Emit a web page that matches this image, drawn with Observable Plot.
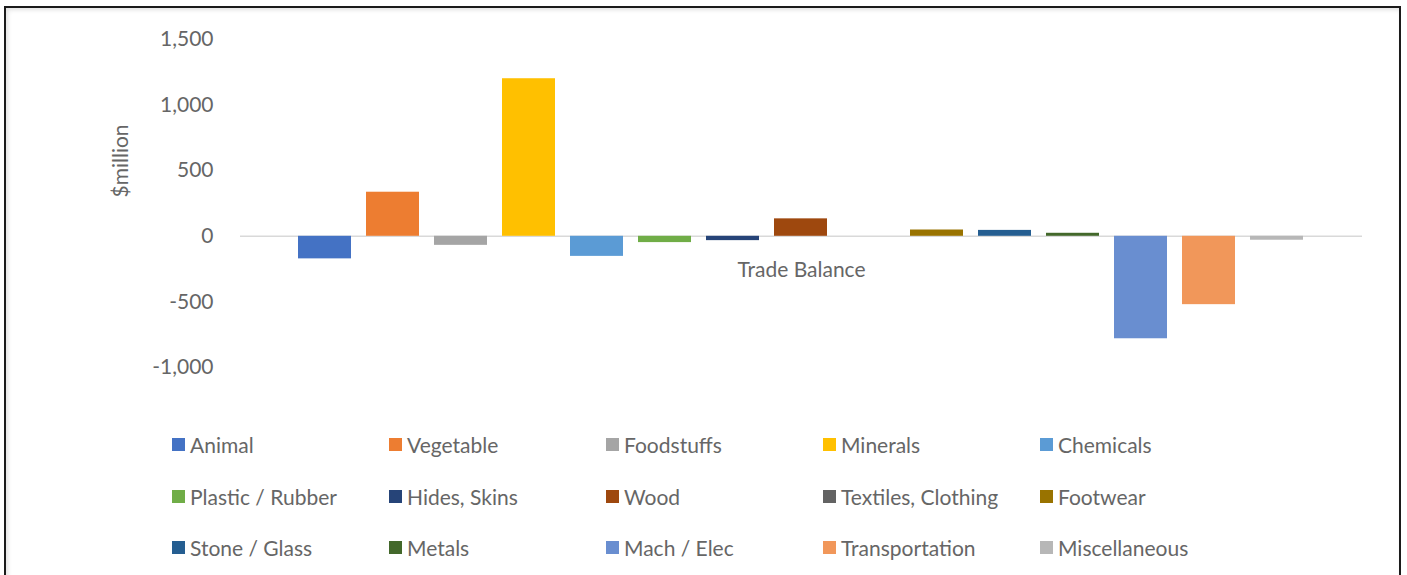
<!DOCTYPE html>
<html>
<head>
<meta charset="utf-8">
<script src="https://cdn.jsdelivr.net/npm/d3@7"></script>
<script src="https://cdn.jsdelivr.net/npm/@observablehq/plot@0.6"></script>
<style>
  html, body { margin: 0; padding: 0; background: #fff; }
  body { position: relative; width: 1407px; height: 575px; overflow: hidden; font-family: Lato, "Open Sans", sans-serif; }
  #frame { position: absolute; left: 4px; top: 6px; width: 1393px; height: 620px; border: 2px solid #1b1b1b; box-shadow: inset 2px 2px 4px rgba(0,0,0,0.12); }
  #chart { position: absolute; left: 0; top: 0; }
  #legend { position: absolute; left: 172px; top: 419px; display: grid; grid-template-columns: repeat(5, 217px); grid-auto-rows: 51.5px; }
  .item { display: flex; align-items: center; font-size: 21px; color: #666; white-space: nowrap; }
  .sw { width: 13px; height: 13px; margin-right: 5px; flex: none; }
</style>
</head>
<body>
<div id="frame"></div>
<div id="chart"></div>
<div id="legend"></div>
<script>
const categories = ["Animal", "Vegetable", "Foodstuffs", "Minerals", "Chemicals",
  "Plastic / Rubber", "Hides, Skins", "Wood", "Textiles, Clothing", "Footwear",
  "Stone / Glass", "Metals", "Mach / Elec", "Transportation", "Miscellaneous"];
const values = [-172, 336, -69, 1201, -153, -48, -33, 133, 0, 48, 45, 23, -781, -521, -30];
const yTicks = [-1000, -500, 0, 500, 1000, 1500];
const groupLabel = "Trade Balance";
const yLabel = "$million";

const colors = ["#4472C4", "#ED7D31", "#A5A5A5", "#FFC000", "#5B9BD5",
  "#70AD47", "#264478", "#9E480E", "#636363", "#997300",
  "#255E91", "#43682B", "#698ED0", "#F1975A", "#B7B7B7"];

const data = categories.map((name, i) => ({name, value: values[i]}));
const fmt = d3.format(",");

const chart = Plot.plot({
  width: 1407,
  height: 400,
  marginLeft: 240,
  marginRight: 45,
  marginTop: 39,
  marginBottom: 33,
  style: {fontFamily: "Lato, 'Open Sans', sans-serif", background: "transparent", overflow: "visible"},
  x: {domain: categories, axis: null, paddingInner: 0.22, paddingOuter: 0.86},
  y: {domain: [-1000, 1500], axis: null},
  color: {domain: categories, range: colors},
  marks: [
    Plot.axisY({ticks: yTicks, tickFormat: d => fmt(d).replace("\u2212", "-"), tickSize: 0, tickPadding: 27,
      fontSize: 21, fill: "#666", label: null}),
    Plot.ruleY([0], {stroke: "#d9d9d9", strokeWidth: 1.5}),
    Plot.barY(data, {x: "name", y: "value", fill: "name"}),
    Plot.text([groupLabel], {frameAnchor: "top", dy: 223, fontSize: 21, fill: "#666", text: d => d}),
    Plot.text([yLabel], {frameAnchor: "left", dx: -119, dy: -6, rotate: -90, fontSize: 21, fill: "#666", text: d => d})
  ]
});
document.getElementById("chart").appendChild(chart);

const legend = document.getElementById("legend");
categories.forEach((name, i) => {
  const item = document.createElement("div");
  item.className = "item";
  const sw = document.createElement("span");
  sw.className = "sw";
  sw.style.background = colors[i];
  const label = document.createElement("span");
  label.textContent = name;
  item.appendChild(sw);
  item.appendChild(label);
  legend.appendChild(item);
});
</script>
</body>
</html>
